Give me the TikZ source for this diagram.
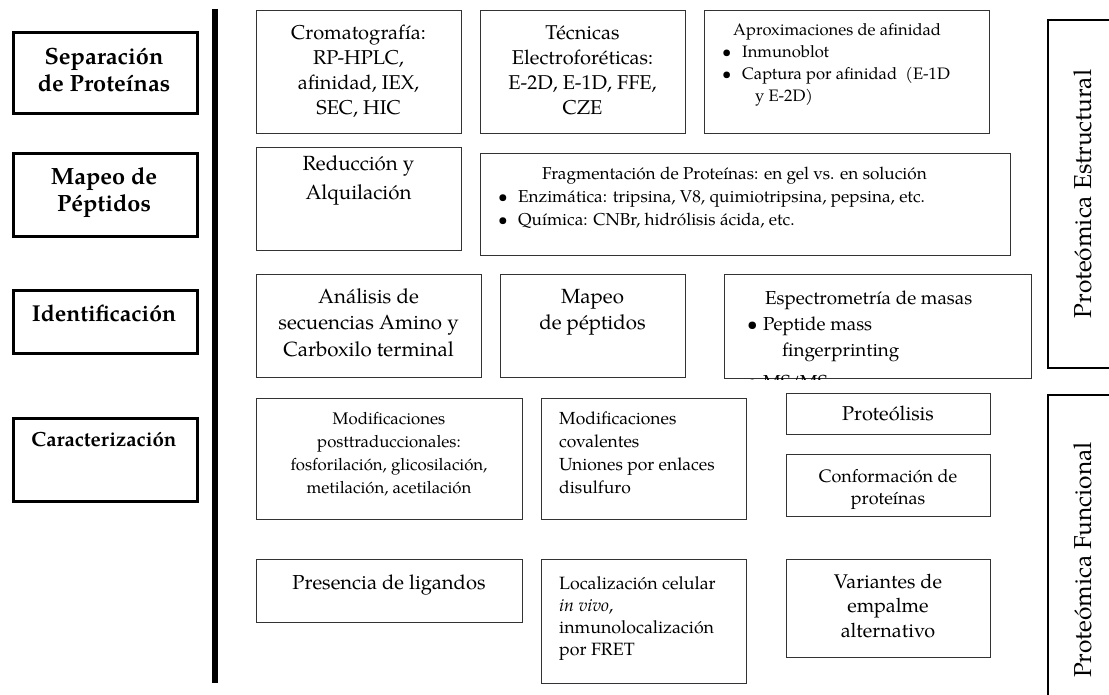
\documentclass[tikz,border=0pt]{standalone}
\usepackage{fontspec}
\setmainfont{TeX Gyre Pagella}
\newcommand{\fsz}[2]{\fontsize{#1}{#2}\selectfont}
\begin{document}
\begin{tikzpicture}[x=1pt,y=-1pt,
 box/.style={draw=black!80, line width=1.3pt, inner sep=0pt, anchor=north west},
 catbox/.style={draw=black, line width=3pt, inner sep=0pt, anchor=north west},
 sidebox/.style={draw=black, line width=2.5pt},
 txt/.style={inner sep=0pt, align=center, anchor=base},
 ltxt/.style={inner sep=0pt, align=left, anchor=base west},
]
\useasboundingbox (0,0) rectangle (1109,695);
% left category boxes
\node[catbox, minimum width=184pt, minimum height=81pt] (sep) at (12,31) {};
\node[catbox, minimum width=184pt, minimum height=83pt] (map) at (12,152) {};
\node[catbox, minimum width=184pt, minimum height=63pt] (ide) at (12,289) {};
\node[catbox, minimum width=184pt, minimum height=83pt] (car) at (12,417) {};
\node[txt, font=\fsz{23.5}{27}\bfseries] (sept) at (104,92) {Separación\\de Proteínas};
\node[txt, font=\fsz{23.5}{27}\bfseries] (mapt) at (104,212) {Mapeo de\\Péptidos};
\node[txt, font=\fsz{23}{27}\bfseries] (idet) at (104,321) {Identificación};
\node[txt, font=\fsz{20.5}{24}\bfseries] (cart) at (104,446) {Caracterización};
% vertical bar
\coordinate (bartop) at (215,9);
\coordinate (barbot) at (215,683);
\draw[line width=6pt] (bartop) -- (barbot);
% row 1
\node[box, minimum width=205pt, minimum height=123pt] (crom) at (256,10) {};
\node[box, minimum width=205pt, minimum height=123pt] (tec) at (480,10) {};
\node[box, minimum width=285pt, minimum height=123pt] (apr) at (704,10) {};
\node[txt, font=\fsz{20}{25}] (cromt) at (358.5,115) {Cromatografía:\\RP-HPLC,\\afinidad, IEX,\\SEC, HIC};
\node[txt, font=\fsz{20}{25}] (tect) at (582.5,115) {Técnicas\\Electroforéticas:\\E-2D, E-1D, FFE,\\CZE};
\node[ltxt, font=\fsz{16.6}{22}] (aprt) at (722,102) {\hspace*{11pt}Aproximaciones de afinidad\\
 \makebox[20pt][l]{\textbullet}Inmunoblot\\
 \makebox[20pt][l]{\textbullet}Captura por afinidad\ \ (E-1D\\
 \hspace*{33pt}y E-2D)};
% row 2
\node[box, minimum width=205pt, minimum height=103pt] (red) at (256,147) {};
\node[box, minimum width=530pt, minimum height=102pt] (fra) at (480,153) {};
\node[txt, font=\fsz{20.5}{29}] (redt) at (358.5,200) {Reducción y\\Alquilación};
\node[ltxt, font=\fsz{17.2}{23}] (frat) at (498,226) {\hspace*{44pt}Fragmentación de Proteínas: en gel vs. en solución\\
 \makebox[20pt][l]{\textbullet}Enzimática: tripsina, V8, quimiotripsina, pepsina, etc.\\
 \makebox[20pt][l]{\textbullet}Química: CNBr, hidrólisis ácida, etc.};
% row 3
\node[box, minimum width=225pt, minimum height=103pt] (ana) at (256,274) {};
\node[box, minimum width=185pt, minimum height=103pt] (mpp) at (500,274) {};
\node[box, minimum width=307pt, minimum height=104pt] (esp) at (724,274) {};
\node[txt, font=\fsz{20.5}{26.5}] (anat) at (368.5,356) {Análisis de\\secuencias Amino y\\Carboxilo terminal};
\node[txt, font=\fsz{20.5}{26}] (mppt) at (592.5,329) {Mapeo\\de péptidos};
\begin{scope}
\clip (esp.north west) rectangle (esp.south east);
\node[ltxt, font=\fsz{18.8}{26}] (espt) at (747,388) {\hspace*{18pt}Espectrometría de masas\\
 \makebox[16pt][l]{\textbullet}Peptide mass\\
 \hspace*{35pt}fingerprinting\\[6pt]
 \makebox[16pt][l]{\textbullet}MS/MS};
\end{scope}
% row 4
\node[box, minimum width=266pt, minimum height=121pt] (pos) at (256,398) {};
\node[box, minimum width=205pt, minimum height=121pt] (cov) at (541,398) {};
\node[box, minimum width=204pt, minimum height=41pt] (prt) at (786,393) {};
\node[box, minimum width=204pt, minimum height=62pt] (con) at (786,454) {};
\node[txt, font=\fsz{16.8}{22.7}] (post) at (389,493) {Modificaciones\\posttraduccionales:\\fosforilación, glicosilación,\\metilación, acetilación};
\node[ltxt, font=\fsz{17.5}{22.7}] (covt) at (559,493) {Modificaciones\\covalentes\\Uniones por enlaces\\disulfuro};
\node[txt, font=\fsz{20}{24}] (prtt) at (888,420) {Proteólisis};
\node[txt, font=\fsz{18}{22}] (cont) at (888,504) {Conformación de\\proteínas};
% row 5
\node[box, minimum width=266pt, minimum height=63pt] (pre) at (256,559) {};
\node[box, minimum width=205pt, minimum height=124pt] (loc) at (541,559) {};
\node[box, minimum width=204pt, minimum height=98pt] (var) at (786,559) {};
\node[txt, font=\fsz{20.2}{24}] (pret) at (389,589) {Presencia de ligandos};
\node[ltxt, font=\fsz{17.8}{21.7}] (loct) at (559,655) {Localización celular\\\textit{in vivo},\\inmunolocalización\\por FRET};
\node[txt, font=\fsz{19.8}{24.5}] (vart) at (888,637) {Variantes de\\empalme\\alternativo};
% right side boxes
\draw[sidebox] (1048,20) rectangle (1125,368);
\draw[sidebox] (1048,395) rectangle (1125,730);
\node[inner sep=0pt, rotate=90, font=\fsz{24.5}{28}] (estr) at (1083,194) {Proteómica Estructural};
\node[inner sep=0pt, rotate=90, font=\fsz{24.5}{28}] (func) at (1083,560) {Proteómica Funcional};
\end{tikzpicture}
\end{document}
